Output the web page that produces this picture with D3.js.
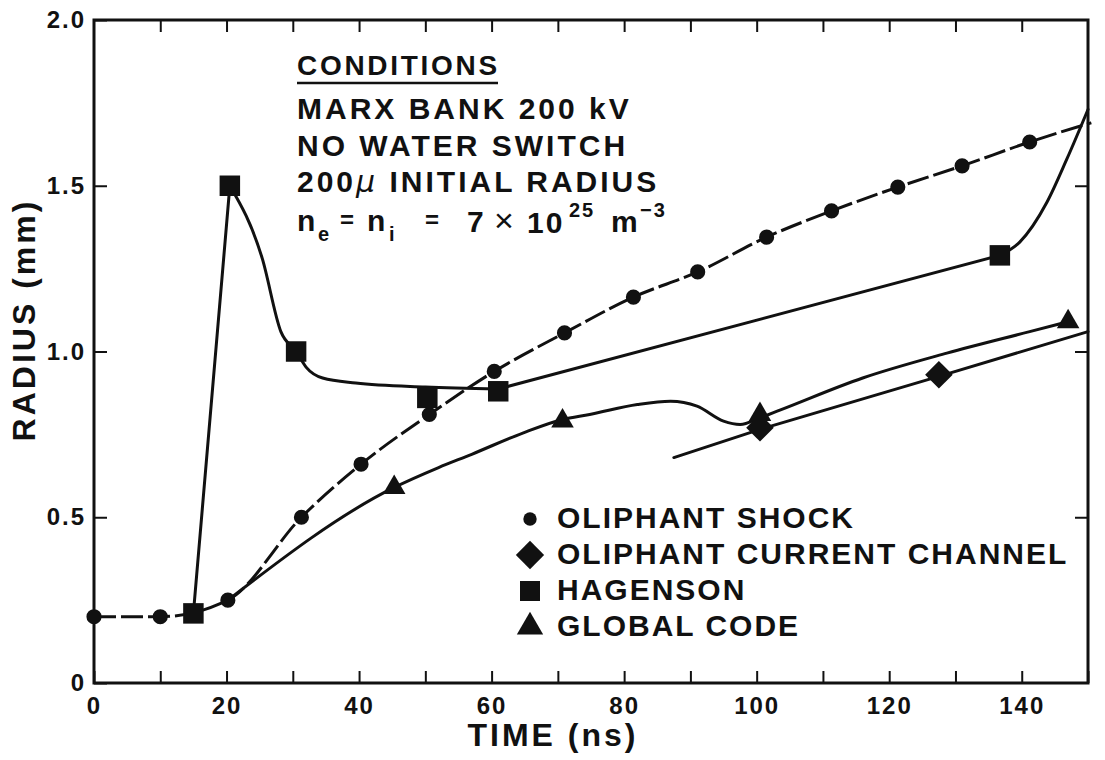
<!DOCTYPE html>
<html>
<head>
<meta charset="utf-8">
<script src="https://cdn.jsdelivr.net/npm/d3@7"></script>
<style>
  body { margin: 0; background: #fff; }
  text { font-family: "Liberation Sans", Arial, sans-serif; font-weight: bold; fill: #111; }
</style>
</head>
<body>
<svg id="chart" width="1105" height="760"></svg>
<script>
// time in ns, radius in mm
const shockPoints = [[0, 0.2], [10, 0.2], [20.2, 0.25], [31.3, 0.5], [40.3, 0.66], [50.6, 0.81], [60.4, 0.94],
  [71, 1.056], [81.4, 1.164], [91.1, 1.24], [101.5, 1.345], [111.3, 1.424], [121.3, 1.496], [131, 1.56], [141.2, 1.632]];
const shockTail = [[150.5, 1.69]];

const channelPoints = [[100.5, 0.77], [127.5, 0.93]];
const channelLine = [[87.5, 0.68], [100.5, 0.765], [127.5, 0.925], [150, 1.06]];

const hagensonPoints = [[15, 0.21], [20.5, 1.5], [30.5, 1.0], [50.3, 0.86], [61, 0.88], [136.7, 1.29]];
// the Hagenson trace: straight rise, smooth decay, straight ramp, sharp final rise
const hagensonRise = [[15, 0.21], [20.5, 1.5]];
const hagensonDecay = [[20.5, 1.5], [25.4, 1.28], [28.2, 1.06], [30.5, 1.0], [32, 0.953], [34.5, 0.92],
  [39.5, 0.905], [50, 0.893], [61, 0.887]];
const hagensonRamp = [[61, 0.887], [136.7, 1.29]];
const hagensonTail = [[136.7, 1.29], [139.7, 1.33], [143.8, 1.45], [146.8, 1.58], [150, 1.73]];

const globalPoints = [[45.3, 0.59], [70.7, 0.79], [100.5, 0.81], [147, 1.09]];
const globalLine = [[20.2, 0.25], [45.3, 0.59], [52, 0.65], [57, 0.69], [64.7, 0.754], [70.7, 0.795], [74.8, 0.81],
  [82, 0.84], [87, 0.85], [91, 0.835], [95, 0.79], [97.5, 0.78], [100.5, 0.8], [103.5, 0.823], [116, 0.92],
  [128.7, 0.995], [141.2, 1.06], [147, 1.09]];

const xTicks = d3.range(0, 151, 10);
const xLabels = [0, 20, 40, 60, 80, 100, 120, 140];
const yTicks = [0, 0.5, 1.0, 1.5, 2.0];

const legendLabels = ["OLIPHANT SHOCK", "OLIPHANT CURRENT CHANNEL", "HAGENSON", "GLOBAL CODE"];
const conditionLines = ["MARX BANK 200 kV", "NO WATER SWITCH"];

const svg = d3.select("#chart");
const plotLeft = 94, plotRight = 1088, plotTop = 20, plotBottom = 683;

const x = d3.scaleLinear().domain([0, 150]).range([plotLeft, plotRight]);
const y = d3.scaleLinear().domain([0, 2]).range([plotBottom, plotTop]);

// axes, ticks pointing inward
function styleAxis(g) {
  g.select(".domain").remove();
  g.selectAll(".tick line").attr("stroke", "#111").attr("stroke-width", 2);
  g.selectAll("text").attr("font-size", 24).style("letter-spacing", "2px").attr("fill", "#111");
  g.attr("font-family", null).attr("font-size", null);
}

svg.append("g")
  .attr("transform", "translate(0," + plotBottom + ")")
  .call(d3.axisBottom(x).tickValues(xTicks).tickSizeInner(-12).tickSizeOuter(0).tickPadding(14)
    .tickFormat(d => xLabels.includes(d) ? d : ""))
  .call(styleAxis);

svg.append("g")
  .attr("transform", "translate(0," + plotTop + ")")
  .call(d3.axisTop(x).tickValues(xTicks.slice(1, -1)).tickSizeInner(-12).tickSizeOuter(0).tickFormat(""))
  .call(styleAxis);

svg.append("g")
  .attr("transform", "translate(" + plotLeft + ",0)")
  .call(d3.axisLeft(y).tickValues(yTicks).tickSizeInner(-13).tickSizeOuter(0).tickPadding(8)
    .tickFormat(d => d === 0 ? "0" : d3.format(".1f")(d)))
  .call(styleAxis);

svg.append("g")
  .attr("transform", "translate(" + plotRight + ",0)")
  .call(d3.axisRight(y).tickValues(yTicks.slice(1, -1)).tickSizeInner(-13).tickSizeOuter(0).tickFormat(""))
  .call(styleAxis);

svg.append("rect")
  .attr("x", plotLeft).attr("y", plotTop)
  .attr("width", plotRight - plotLeft).attr("height", plotBottom - plotTop)
  .attr("fill", "none").attr("stroke", "#111").attr("stroke-width", 3);

// axis titles
svg.append("text")
  .attr("x", 553).attr("y", 746)
  .attr("text-anchor", "middle")
  .attr("font-size", 32).style("letter-spacing", "3px")
  .text("TIME (ns)");

svg.append("text")
  .attr("transform", "translate(35,320) rotate(-90)")
  .attr("text-anchor", "middle")
  .attr("font-size", 32).style("letter-spacing", "3px")
  .text("RADIUS (mm)");

// curves
const line = d3.line().x(d => x(d[0])).y(d => y(d[1]));
const plot = svg.append("g").attr("fill", "none").attr("stroke", "#111").attr("stroke-width", 3)
  .attr("stroke-linejoin", "round").attr("stroke-linecap", "round");

plot.append("path")
  .attr("d", line.curve(d3.curveMonotoneX)(shockPoints.concat(shockTail)))
  .attr("stroke-linecap", "butt")
  .attr("stroke-dasharray", "22,5");

plot.append("path").attr("d", line.curve(d3.curveLinear)(hagensonRise));
plot.append("path").attr("d", line.curve(d3.curveMonotoneX)(hagensonDecay));
plot.append("path").attr("d", line.curve(d3.curveLinear)(hagensonRamp));
plot.append("path").attr("d", line.curve(d3.curveMonotoneX)(hagensonTail));

plot.append("path")
  .attr("d", line.curve(d3.curveMonotoneX)(globalLine));

plot.append("path")
  .attr("d", line.curve(d3.curveLinear)(channelLine));

// markers
const marks = svg.append("g").attr("fill", "#111");
const circle = d3.symbol().type(d3.symbolCircle).size(180);
const square = d3.symbol().type(d3.symbolSquare).size(420);
const diamond = d3.symbol().type(d3.symbolSquare).size(380);
const triangle = d3.symbol().type(d3.symbolTriangle).size(220);

marks.selectAll(".shock").data(shockPoints).enter().append("path")
  .attr("d", circle)
  .attr("transform", d => "translate(" + x(d[0]) + "," + y(d[1]) + ")");

marks.selectAll(".hag").data(hagensonPoints).enter().append("path")
  .attr("d", square)
  .attr("transform", d => "translate(" + x(d[0]) + "," + y(d[1]) + ")");

marks.selectAll(".chan").data(channelPoints).enter().append("path")
  .attr("d", diamond)
  .attr("transform", d => "translate(" + x(d[0]) + "," + y(d[1]) + ") rotate(45)");

marks.selectAll(".glob").data(globalPoints).enter().append("path")
  .attr("d", triangle)
  .attr("transform", d => "translate(" + x(d[0]) + "," + y(d[1]) + ")");

// conditions box
svg.append("text")
  .attr("x", 297).attr("y", 75)
  .attr("font-size", 28).style("letter-spacing", "2.7px")
  .text("CONDITIONS");
svg.append("line")
  .attr("x1", 297).attr("x2", 498).attr("y1", 83).attr("y2", 83)
  .attr("stroke", "#111").attr("stroke-width", 2.5);

svg.selectAll(".cond").data(conditionLines).enter().append("text")
  .attr("x", 297).attr("y", (d, i) => 119 + i * 37)
  .attr("font-size", 30).style("letter-spacing", "3px")
  .text(d => d);

const mu = svg.append("text")
  .attr("x", 297).attr("y", 192)
  .attr("font-size", 30).style("letter-spacing", "3px");
mu.append("tspan").text("200");
mu.append("tspan").attr("font-style", "italic").attr("font-family", "DejaVu Sans").attr("font-weight", "normal").text("\u03bc");
mu.append("tspan").text(" INITIAL RADIUS");

// n_e = n_i = 7 x 10^25 m^-3, one text with positioned pieces
const densParts = [
  {t: "n", x: 297, y: 231, s: 30},
  {t: "e", x: 318, y: 241, s: 20},
  {t: "=", x: 340, y: 228, s: 24},
  {t: "n", x: 367, y: 231, s: 30},
  {t: "i", x: 389, y: 241, s: 20},
  {t: "=", x: 425, y: 228, s: 24},
  {t: "7", x: 467, y: 232, s: 30},
  {t: "\u00d7", x: 494, y: 232, s: 34, w: "normal"},
  {t: "10", x: 527, y: 233, s: 30},
  {t: "25", x: 569, y: 217, s: 20},
  {t: "m", x: 611, y: 232, s: 30},
  {t: "\u22123", x: 640, y: 217, s: 20}
];
const dens = svg.append("text").style("letter-spacing", "2px");
dens.selectAll("tspan").data(densParts).enter().append("tspan")
  .attr("x", d => d.x).attr("y", d => d.y)
  .attr("font-size", d => d.s)
  .attr("font-weight", d => d.w || null)
  .text(d => d.t);

// legend
const legendSymbolTypes = [d3.symbolCircle, d3.symbolSquare, d3.symbolSquare, d3.symbolTriangle];
const legendSymbolSizes = [140, 400, 400, 300];
const legend = svg.append("g");
legendLabels.forEach((label, i) => {
  const cy = 519 + i * 36;
  const sym = d3.symbol().type(legendSymbolTypes[i]).size(legendSymbolSizes[i]);
  legend.append("path")
    .attr("d", sym)
    .attr("fill", "#111")
    .attr("transform", "translate(530," + cy + ")" + (i === 1 ? " rotate(45)" : ""));
  legend.append("text")
    .attr("x", 557).attr("y", 528 + i * 36)
    .attr("font-size", 30).style("letter-spacing", "2px")
    .text(label);
});
</script>
</body>
</html>
